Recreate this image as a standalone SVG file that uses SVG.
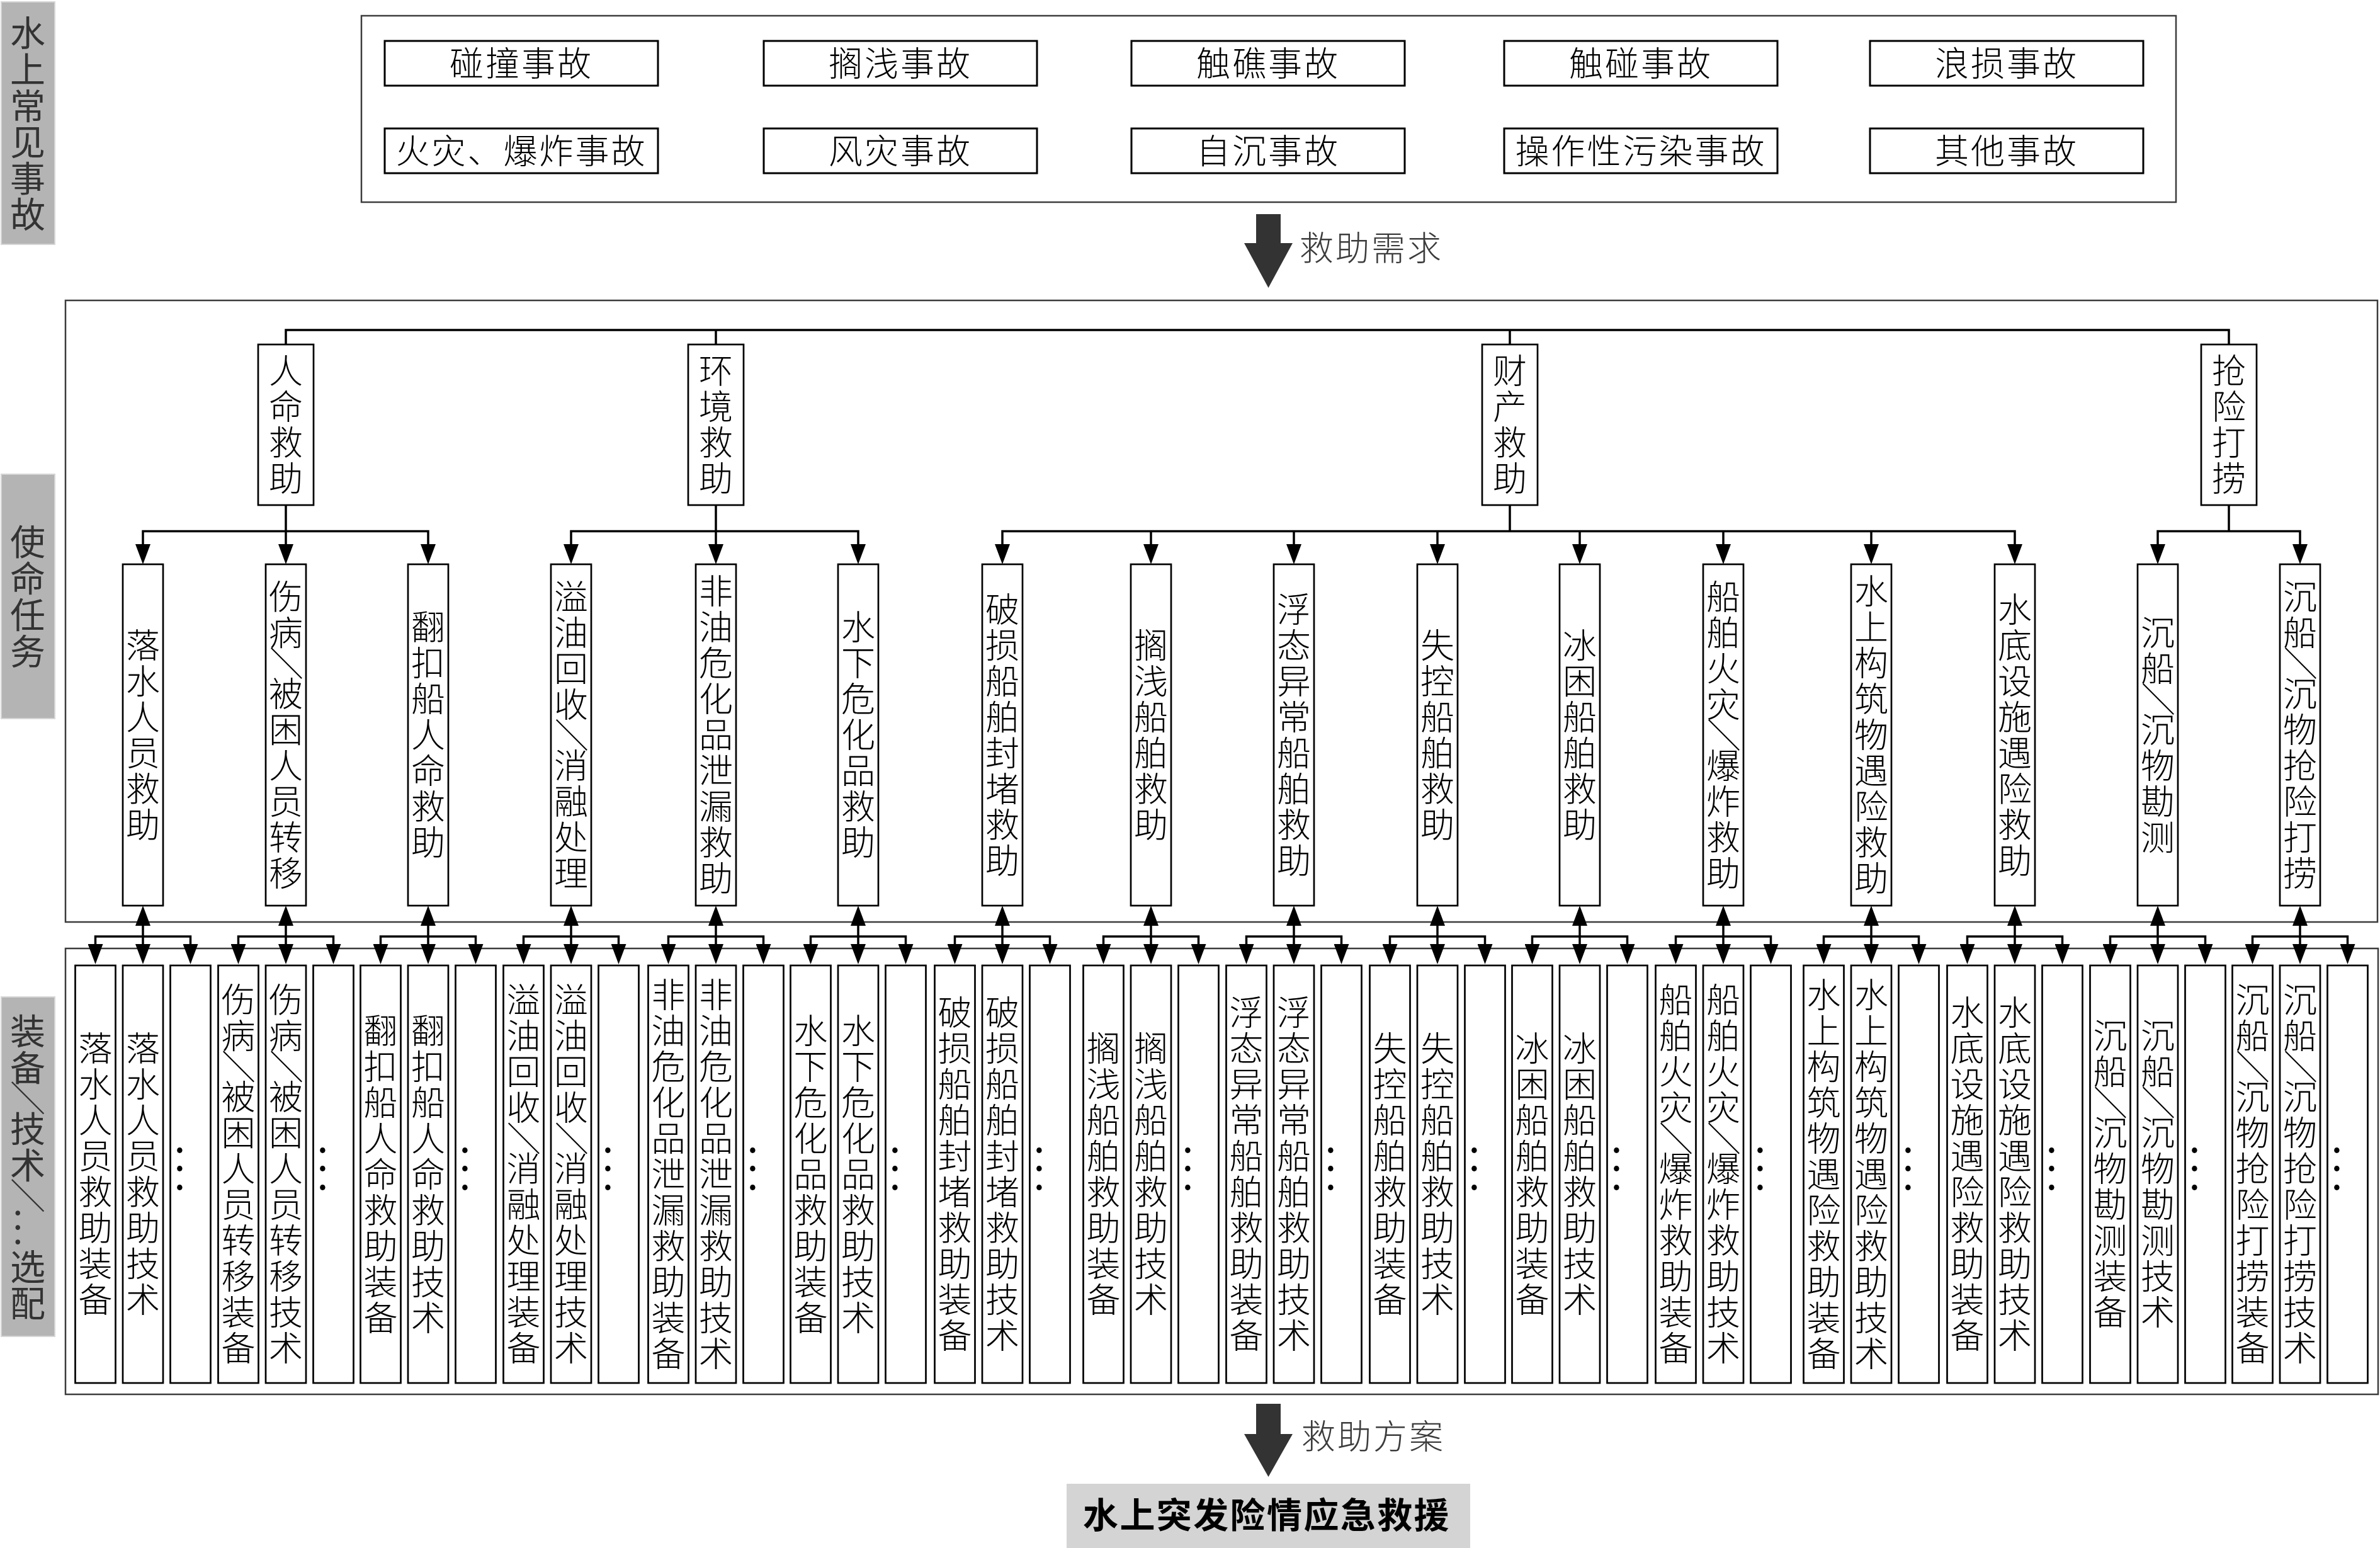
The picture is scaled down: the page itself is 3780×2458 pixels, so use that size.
<svg xmlns="http://www.w3.org/2000/svg" width="3780" height="2458" viewBox="0 0 3780 2458">
<style>
.f{font-family:'Noto Sans CJK SC','Noto Sans CJK JP',sans-serif}
.t{font-size:54px;fill:#000;font-weight:300}
.h{text-anchor:middle;letter-spacing:3px}
.lt{font-size:56px;fill:#333}
.d{font-size:64px;text-anchor:middle;fill:#000}
.bx{fill:#fff;stroke:#000;stroke-width:2.7}
.ab{fill:#fff;stroke:#000;stroke-width:3}
.big{fill:none;stroke:#3c3c3c;stroke-width:2.5}
.lab{fill:#b4b4b4;stroke:#d6d6d6;stroke-width:2}
.ln{fill:none;stroke:#000;stroke-width:3.5}
.me{marker-end:url(#ah)}
.mb{marker-start:url(#ah);marker-end:url(#ah)}
.blk{fill:#333}
</style>
<defs>
<marker id="ah" viewBox="0 0 32 24" refX="0" refY="12" markerWidth="32" markerHeight="24" markerUnits="userSpaceOnUse" orient="auto-start-reverse"><path d="M0,0 L32,12 L0,24 z" fill="#000"/></marker>
</defs>
<rect width="3780" height="2458" fill="#fff"/>

<g id="side-labels">
<g id="label-accidents"><rect class="lab" x="2" y="3" width="85" height="385"/>
<text class="f lt" x="16 16 16 16 16 16" y="73 131 188.5 246 303.5 361">水上常见事故</text></g>
<g id="label-missions"><rect class="lab" x="2" y="753" width="85" height="388"/>
<text class="f lt" x="16 16 16 16" y="881 939 997 1055">使命任务</text></g>
<g id="label-equipment"><rect class="lab" x="2" y="1583" width="85" height="539"/>
<text class="f lt" x="16 16 22.7 16 16 22.7 20.5 20.5 20.5 16 16" y="1658 1715.5 1715.2 1813 1870.5 1870.2 1929 1952 1975 2032 2090" rotate="0 0 90 0 0 90 0">装备／技术／...选配</text></g>
</g>

<g id="frames">
<rect class="big" x="574" y="25" width="2882" height="296"/>
<rect class="big" x="104" y="477" width="3672" height="987"/>
<rect class="big" x="104" y="1506" width="3673" height="708"/>
</g>

<g id="accidents">
<g id="acc-1"><rect class="ab" x="611" y="65" width="434" height="71"/><text class="f t h" x="828" y="121">碰撞事故</text></g>
<g id="acc-2"><rect class="ab" x="1213" y="65" width="434" height="71"/><text class="f t h" x="1430" y="121">搁浅事故</text></g>
<g id="acc-3"><rect class="ab" x="1797" y="65" width="434" height="71"/><text class="f t h" x="2014" y="121">触礁事故</text></g>
<g id="acc-4"><rect class="ab" x="2389" y="65" width="434" height="71"/><text class="f t h" x="2606" y="121">触碰事故</text></g>
<g id="acc-5"><rect class="ab" x="2970" y="65" width="434" height="71"/><text class="f t h" x="3187" y="121">浪损事故</text></g>
<g id="acc-6"><rect class="ab" x="611" y="204" width="434" height="71"/><text class="f t h" x="828" y="260">火灾、爆炸事故</text></g>
<g id="acc-7"><rect class="ab" x="1213" y="204" width="434" height="71"/><text class="f t h" x="1430" y="260">风灾事故</text></g>
<g id="acc-8"><rect class="ab" x="1797" y="204" width="434" height="71"/><text class="f t h" x="2014" y="260">自沉事故</text></g>
<g id="acc-9"><rect class="ab" x="2389" y="204" width="434" height="71"/><text class="f t h" x="2606" y="260">操作性污染事故</text></g>
<g id="acc-10"><rect class="ab" x="2970" y="204" width="434" height="71"/><text class="f t h" x="3187" y="260">其他事故</text></g>
</g>

<g id="flow-arrows">
<g id="arrow-demand"><polygon class="blk" points="1995,340 2034,340 2034,386 2053,386 2014.5,457 1976,386 1995,386"/>
<text class="f" x="2064" y="414" style="font-size:54px;fill:#3c3c3c;letter-spacing:3px;font-weight:300">救助需求</text></g>
<g id="arrow-plan"><polygon class="blk" points="1995,2229 2034,2229 2034,2277 2053,2277 2014.5,2345 1976,2277 1995,2277"/>
<text class="f" x="2067" y="2301" style="font-size:54px;fill:#3c3c3c;letter-spacing:3px;font-weight:300">救助方案</text></g>
</g>

<g id="result"><rect x="1694" y="2356" width="641" height="102" fill="#d4d4d4"/>
<text class="f" x="2012" y="2426" style="font-size:56px;font-weight:bold;text-anchor:middle;letter-spacing:2.4px;fill:#000">水上突发险情应急救援</text></g>

<g id="connectors">
<path class="ln" d="M454,547 V524 H3540 V547"/>
<path class="ln" d="M1137,524 V547"/>
<path class="ln" d="M2398,524 V547"/>
<path class="ln mb" d="M227,864 V843.5 H680 V864"/>
<path class="ln me" d="M454,802 V864"/>
<path class="ln mb" d="M907,864 V843.5 H1363 V864"/>
<path class="ln me" d="M1137,802 V864"/>
<path class="ln mb" d="M1592,864 V843.5 H3200 V864"/>
<path class="ln" d="M2398,802 V843.5"/>
<path class="ln me" d="M1828,843.5 V864"/>
<path class="ln me" d="M2055,843.5 V864"/>
<path class="ln me" d="M2283,843.5 V864"/>
<path class="ln me" d="M2509,843.5 V864"/>
<path class="ln me" d="M2737,843.5 V864"/>
<path class="ln me" d="M2972,843.5 V864"/>
<path class="ln mb" d="M3427,864 V843.5 H3653 V864"/>
<path class="ln" d="M3540,802 V843.5"/>
<path class="ln mb" d="M151.5,1499 V1487 H302.5 V1499"/><path class="ln mb" d="M227,1470 V1499"/>
<path class="ln mb" d="M378.5,1499 V1487 H529.5 V1499"/><path class="ln mb" d="M454,1470 V1499"/>
<path class="ln mb" d="M604.5,1499 V1487 H755.5 V1499"/><path class="ln mb" d="M680,1470 V1499"/>
<path class="ln mb" d="M831.5,1499 V1487 H982.5 V1499"/><path class="ln mb" d="M907,1470 V1499"/>
<path class="ln mb" d="M1061.5,1499 V1487 H1212.5 V1499"/><path class="ln mb" d="M1137,1470 V1499"/>
<path class="ln mb" d="M1287.5,1499 V1487 H1438.5 V1499"/><path class="ln mb" d="M1363,1470 V1499"/>
<path class="ln mb" d="M1516.5,1499 V1487 H1667.5 V1499"/><path class="ln mb" d="M1592,1470 V1499"/>
<path class="ln mb" d="M1752.5,1499 V1487 H1903.5 V1499"/><path class="ln mb" d="M1828,1470 V1499"/>
<path class="ln mb" d="M1979.5,1499 V1487 H2130.5 V1499"/><path class="ln mb" d="M2055,1470 V1499"/>
<path class="ln mb" d="M2207.5,1499 V1487 H2358.5 V1499"/><path class="ln mb" d="M2283,1470 V1499"/>
<path class="ln mb" d="M2433.5,1499 V1487 H2584.5 V1499"/><path class="ln mb" d="M2509,1470 V1499"/>
<path class="ln mb" d="M2661.5,1499 V1487 H2812.5 V1499"/><path class="ln mb" d="M2737,1470 V1499"/>
<path class="ln mb" d="M2896.5,1499 V1487 H3047.5 V1499"/><path class="ln mb" d="M2972,1470 V1499"/>
<path class="ln mb" d="M3124.5,1499 V1487 H3275.5 V1499"/><path class="ln mb" d="M3200,1470 V1499"/>
<path class="ln mb" d="M3351.5,1499 V1487 H3502.5 V1499"/><path class="ln mb" d="M3427,1470 V1499"/>
<path class="ln mb" d="M3577.5,1499 V1487 H3728.5 V1499"/><path class="ln mb" d="M3653,1470 V1499"/>
</g>

<g id="level1">
<g id="m-life"><rect class="bx" x="410" y="547" width="88" height="255"/><text class="f t" x="427 427 427 427" y="609 666 723 780">人命救助</text></g>
<g id="m-env"><rect class="bx" x="1093" y="547" width="88" height="255"/><text class="f t" x="1110 1110 1110 1110" y="609 666 723 780">环境救助</text></g>
<g id="m-prop"><rect class="bx" x="2354" y="547" width="88" height="255"/><text class="f t" x="2371 2371 2371 2371" y="609 666 723 780">财产救助</text></g>
<g id="m-salv"><rect class="bx" x="3496" y="547" width="88" height="255"/><text class="f t" x="3513 3513 3513 3513" y="609 666 723 780">抢险打捞</text></g>
</g>

<g id="level2">
<g id="t-1"><rect class="bx" x="195" y="896" width="64" height="542"/><text class="f t" x="200 200 200 200 200 200" y="1044.5 1101.5 1158.5 1215.5 1272.5 1329.5">落水人员救助</text></g>
<g id="t-2"><rect class="bx" x="422" y="896" width="64" height="542"/><text class="f t" x="427 427 433.5 427 427 427 427 427 427" y="967.5 1024.5 1026 1121.5 1178.5 1235.5 1292.5 1349.5 1406.5" rotate="0 0 90 0">伤病／被困人员转移</text></g>
<g id="t-3"><rect class="bx" x="648" y="896" width="64" height="542"/><text class="f t" x="653 653 653 653 653 653 653" y="1016 1073 1130 1187 1244 1301 1358">翻扣船人命救助</text></g>
<g id="t-4"><rect class="bx" x="875" y="896" width="64" height="542"/><text class="f t" x="880 880 880 880 886.5 880 880 880 880" y="967.5 1024.5 1081.5 1138.5 1140 1235.5 1292.5 1349.5 1406.5" rotate="0 0 0 0 90 0">溢油回收／消融处理</text></g>
<g id="t-5"><rect class="bx" x="1105" y="896" width="64" height="542"/><text class="f t" x="1110 1110 1110 1110 1110 1110 1110 1110 1110" y="959 1016 1073 1130 1187 1244 1301 1358 1415">非油危化品泄漏救助</text></g>
<g id="t-6"><rect class="bx" x="1331" y="896" width="64" height="542"/><text class="f t" x="1336 1336 1336 1336 1336 1336 1336" y="1016 1073 1130 1187 1244 1301 1358">水下危化品救助</text></g>
<g id="t-7"><rect class="bx" x="1560" y="896" width="64" height="542"/><text class="f t" x="1565 1565 1565 1565 1565 1565 1565 1565" y="987.5 1044.5 1101.5 1158.5 1215.5 1272.5 1329.5 1386.5">破损船舶封堵救助</text></g>
<g id="t-8"><rect class="bx" x="1796" y="896" width="64" height="542"/><text class="f t" x="1801 1801 1801 1801 1801 1801" y="1044.5 1101.5 1158.5 1215.5 1272.5 1329.5">搁浅船舶救助</text></g>
<g id="t-9"><rect class="bx" x="2023" y="896" width="64" height="542"/><text class="f t" x="2028 2028 2028 2028 2028 2028 2028 2028" y="987.5 1044.5 1101.5 1158.5 1215.5 1272.5 1329.5 1386.5">浮态异常船舶救助</text></g>
<g id="t-10"><rect class="bx" x="2251" y="896" width="64" height="542"/><text class="f t" x="2256 2256 2256 2256 2256 2256" y="1044.5 1101.5 1158.5 1215.5 1272.5 1329.5">失控船舶救助</text></g>
<g id="t-11"><rect class="bx" x="2477" y="896" width="64" height="542"/><text class="f t" x="2482 2482 2482 2482 2482 2482" y="1044.5 1101.5 1158.5 1215.5 1272.5 1329.5">冰困船舶救助</text></g>
<g id="t-12"><rect class="bx" x="2705" y="896" width="64" height="542"/><text class="f t" x="2710 2710 2710 2710 2716.5 2710 2710 2710 2710" y="967.5 1024.5 1081.5 1138.5 1140 1235.5 1292.5 1349.5 1406.5" rotate="0 0 0 0 90 0">船舶火灾／爆炸救助</text></g>
<g id="t-13"><rect class="bx" x="2940" y="896" width="64" height="542"/><text class="f t" x="2945 2945 2945 2945 2945 2945 2945 2945 2945" y="959 1016 1073 1130 1187 1244 1301 1358 1415">水上构筑物遇险救助</text></g>
<g id="t-14"><rect class="bx" x="3168" y="896" width="64" height="542"/><text class="f t" x="3173 3173 3173 3173 3173 3173 3173 3173" y="987.5 1044.5 1101.5 1158.5 1215.5 1272.5 1329.5 1386.5">水底设施遇险救助</text></g>
<g id="t-15"><rect class="bx" x="3395" y="896" width="64" height="542"/><text class="f t" x="3400 3400 3406.5 3400 3400 3400 3400" y="1024.5 1081.5 1083 1178.5 1235.5 1292.5 1349.5" rotate="0 0 90 0">沉船／沉物勘测</text></g>
<g id="t-16"><rect class="bx" x="3621" y="896" width="64" height="542"/><text class="f t" x="3626 3626 3632.5 3626 3626 3626 3626 3626 3626" y="967.5 1024.5 1026 1121.5 1178.5 1235.5 1292.5 1349.5 1406.5" rotate="0 0 90 0">沉船／沉物抢险打捞</text></g>
</g>

<g id="level3">
<g id="e-1a"><rect class="bx" x="119.5" y="1533" width="64" height="663"/><text class="f t" x="124.5 124.5 124.5 124.5 124.5 124.5 124.5 124.5" y="1685 1742 1799 1856 1913 1970 2027 2084">落水人员救助装备</text></g>
<g id="e-1b"><rect class="bx" x="195" y="1533" width="64" height="663"/><text class="f t" x="200 200 200 200 200 200 200 200" y="1685 1742 1799 1856 1913 1970 2027 2084">落水人员救助技术</text></g>
<g id="e-1c"><rect class="bx" x="270.5" y="1533" width="64" height="663"/><text class="f d" x="285.5 285.5 285.5" y="1830 1859 1889">...</text></g>

<g id="e-2a"><rect class="bx" x="346.5" y="1533" width="64" height="663"/><text class="f t" x="351.5 351.5 358 351.5 351.5 351.5 351.5 351.5 351.5 351.5 351.5" y="1608 1665 1666.5 1762 1819 1876 1933 1990 2047 2104 2161" rotate="0 0 90 0">伤病／被困人员转移装备</text></g>
<g id="e-2b"><rect class="bx" x="422" y="1533" width="64" height="663"/><text class="f t" x="427 427 433.5 427 427 427 427 427 427 427 427" y="1608 1665 1666.5 1762 1819 1876 1933 1990 2047 2104 2161" rotate="0 0 90 0">伤病／被困人员转移技术</text></g>
<g id="e-2c"><rect class="bx" x="497.5" y="1533" width="64" height="663"/><text class="f d" x="512.5 512.5 512.5" y="1830 1859 1889">...</text></g>

<g id="e-3a"><rect class="bx" x="572.5" y="1533" width="64" height="663"/><text class="f t" x="577.5 577.5 577.5 577.5 577.5 577.5 577.5 577.5 577.5" y="1656.5 1713.5 1770.5 1827.5 1884.5 1941.5 1998.5 2055.5 2112.5">翻扣船人命救助装备</text></g>
<g id="e-3b"><rect class="bx" x="648" y="1533" width="64" height="663"/><text class="f t" x="653 653 653 653 653 653 653 653 653" y="1656.5 1713.5 1770.5 1827.5 1884.5 1941.5 1998.5 2055.5 2112.5">翻扣船人命救助技术</text></g>
<g id="e-3c"><rect class="bx" x="723.5" y="1533" width="64" height="663"/><text class="f d" x="738.5 738.5 738.5" y="1830 1859 1889">...</text></g>

<g id="e-4a"><rect class="bx" x="799.5" y="1533" width="64" height="663"/><text class="f t" x="804.5 804.5 804.5 804.5 811 804.5 804.5 804.5 804.5 804.5 804.5" y="1608 1665 1722 1779 1780.5 1876 1933 1990 2047 2104 2161" rotate="0 0 0 0 90 0">溢油回收／消融处理装备</text></g>
<g id="e-4b"><rect class="bx" x="875" y="1533" width="64" height="663"/><text class="f t" x="880 880 880 880 886.5 880 880 880 880 880 880" y="1608 1665 1722 1779 1780.5 1876 1933 1990 2047 2104 2161" rotate="0 0 0 0 90 0">溢油回收／消融处理技术</text></g>
<g id="e-4c"><rect class="bx" x="950.5" y="1533" width="64" height="663"/><text class="f d" x="965.5 965.5 965.5" y="1830 1859 1889">...</text></g>

<g id="e-5a"><rect class="bx" x="1029.5" y="1533" width="64" height="663"/><text class="f t" x="1034.5 1034.5 1034.5 1034.5 1034.5 1034.5 1034.5 1034.5 1034.5 1034.5 1034.5" y="1599.5 1656.5 1713.5 1770.5 1827.5 1884.5 1941.5 1998.5 2055.5 2112.5 2169.5">非油危化品泄漏救助装备</text></g>
<g id="e-5b"><rect class="bx" x="1105" y="1533" width="64" height="663"/><text class="f t" x="1110 1110 1110 1110 1110 1110 1110 1110 1110 1110 1110" y="1599.5 1656.5 1713.5 1770.5 1827.5 1884.5 1941.5 1998.5 2055.5 2112.5 2169.5">非油危化品泄漏救助技术</text></g>
<g id="e-5c"><rect class="bx" x="1180.5" y="1533" width="64" height="663"/><text class="f d" x="1195.5 1195.5 1195.5" y="1830 1859 1889">...</text></g>

<g id="e-6a"><rect class="bx" x="1255.5" y="1533" width="64" height="663"/><text class="f t" x="1260.5 1260.5 1260.5 1260.5 1260.5 1260.5 1260.5 1260.5 1260.5" y="1656.5 1713.5 1770.5 1827.5 1884.5 1941.5 1998.5 2055.5 2112.5">水下危化品救助装备</text></g>
<g id="e-6b"><rect class="bx" x="1331" y="1533" width="64" height="663"/><text class="f t" x="1336 1336 1336 1336 1336 1336 1336 1336 1336" y="1656.5 1713.5 1770.5 1827.5 1884.5 1941.5 1998.5 2055.5 2112.5">水下危化品救助技术</text></g>
<g id="e-6c"><rect class="bx" x="1406.5" y="1533" width="64" height="663"/><text class="f d" x="1421.5 1421.5 1421.5" y="1830 1859 1889">...</text></g>

<g id="e-7a"><rect class="bx" x="1484.5" y="1533" width="64" height="663"/><text class="f t" x="1489.5 1489.5 1489.5 1489.5 1489.5 1489.5 1489.5 1489.5 1489.5 1489.5" y="1628 1685 1742 1799 1856 1913 1970 2027 2084 2141">破损船舶封堵救助装备</text></g>
<g id="e-7b"><rect class="bx" x="1560" y="1533" width="64" height="663"/><text class="f t" x="1565 1565 1565 1565 1565 1565 1565 1565 1565 1565" y="1628 1685 1742 1799 1856 1913 1970 2027 2084 2141">破损船舶封堵救助技术</text></g>
<g id="e-7c"><rect class="bx" x="1635.5" y="1533" width="64" height="663"/><text class="f d" x="1650.5 1650.5 1650.5" y="1830 1859 1889">...</text></g>

<g id="e-8a"><rect class="bx" x="1720.5" y="1533" width="64" height="663"/><text class="f t" x="1725.5 1725.5 1725.5 1725.5 1725.5 1725.5 1725.5 1725.5" y="1685 1742 1799 1856 1913 1970 2027 2084">搁浅船舶救助装备</text></g>
<g id="e-8b"><rect class="bx" x="1796" y="1533" width="64" height="663"/><text class="f t" x="1801 1801 1801 1801 1801 1801 1801 1801" y="1685 1742 1799 1856 1913 1970 2027 2084">搁浅船舶救助技术</text></g>
<g id="e-8c"><rect class="bx" x="1871.5" y="1533" width="64" height="663"/><text class="f d" x="1886.5 1886.5 1886.5" y="1830 1859 1889">...</text></g>

<g id="e-9a"><rect class="bx" x="1947.5" y="1533" width="64" height="663"/><text class="f t" x="1952.5 1952.5 1952.5 1952.5 1952.5 1952.5 1952.5 1952.5 1952.5 1952.5" y="1628 1685 1742 1799 1856 1913 1970 2027 2084 2141">浮态异常船舶救助装备</text></g>
<g id="e-9b"><rect class="bx" x="2023" y="1533" width="64" height="663"/><text class="f t" x="2028 2028 2028 2028 2028 2028 2028 2028 2028 2028" y="1628 1685 1742 1799 1856 1913 1970 2027 2084 2141">浮态异常船舶救助技术</text></g>
<g id="e-9c"><rect class="bx" x="2098.5" y="1533" width="64" height="663"/><text class="f d" x="2113.5 2113.5 2113.5" y="1830 1859 1889">...</text></g>

<g id="e-10a"><rect class="bx" x="2175.5" y="1533" width="64" height="663"/><text class="f t" x="2180.5 2180.5 2180.5 2180.5 2180.5 2180.5 2180.5 2180.5" y="1685 1742 1799 1856 1913 1970 2027 2084">失控船舶救助装备</text></g>
<g id="e-10b"><rect class="bx" x="2251" y="1533" width="64" height="663"/><text class="f t" x="2256 2256 2256 2256 2256 2256 2256 2256" y="1685 1742 1799 1856 1913 1970 2027 2084">失控船舶救助技术</text></g>
<g id="e-10c"><rect class="bx" x="2326.5" y="1533" width="64" height="663"/><text class="f d" x="2341.5 2341.5 2341.5" y="1830 1859 1889">...</text></g>

<g id="e-11a"><rect class="bx" x="2401.5" y="1533" width="64" height="663"/><text class="f t" x="2406.5 2406.5 2406.5 2406.5 2406.5 2406.5 2406.5 2406.5" y="1685 1742 1799 1856 1913 1970 2027 2084">冰困船舶救助装备</text></g>
<g id="e-11b"><rect class="bx" x="2477" y="1533" width="64" height="663"/><text class="f t" x="2482 2482 2482 2482 2482 2482 2482 2482" y="1685 1742 1799 1856 1913 1970 2027 2084">冰困船舶救助技术</text></g>
<g id="e-11c"><rect class="bx" x="2552.5" y="1533" width="64" height="663"/><text class="f d" x="2567.5 2567.5 2567.5" y="1830 1859 1889">...</text></g>

<g id="e-12a"><rect class="bx" x="2629.5" y="1533" width="64" height="663"/><text class="f t" x="2634.5 2634.5 2634.5 2634.5 2641 2634.5 2634.5 2634.5 2634.5 2634.5 2634.5" y="1608 1665 1722 1779 1780.5 1876 1933 1990 2047 2104 2161" rotate="0 0 0 0 90 0">船舶火灾／爆炸救助装备</text></g>
<g id="e-12b"><rect class="bx" x="2705" y="1533" width="64" height="663"/><text class="f t" x="2710 2710 2710 2710 2716.5 2710 2710 2710 2710 2710 2710" y="1608 1665 1722 1779 1780.5 1876 1933 1990 2047 2104 2161" rotate="0 0 0 0 90 0">船舶火灾／爆炸救助技术</text></g>
<g id="e-12c"><rect class="bx" x="2780.5" y="1533" width="64" height="663"/><text class="f d" x="2795.5 2795.5 2795.5" y="1830 1859 1889">...</text></g>

<g id="e-13a"><rect class="bx" x="2864.5" y="1533" width="64" height="663"/><text class="f t" x="2869.5 2869.5 2869.5 2869.5 2869.5 2869.5 2869.5 2869.5 2869.5 2869.5 2869.5" y="1599.5 1656.5 1713.5 1770.5 1827.5 1884.5 1941.5 1998.5 2055.5 2112.5 2169.5">水上构筑物遇险救助装备</text></g>
<g id="e-13b"><rect class="bx" x="2940" y="1533" width="64" height="663"/><text class="f t" x="2945 2945 2945 2945 2945 2945 2945 2945 2945 2945 2945" y="1599.5 1656.5 1713.5 1770.5 1827.5 1884.5 1941.5 1998.5 2055.5 2112.5 2169.5">水上构筑物遇险救助技术</text></g>
<g id="e-13c"><rect class="bx" x="3015.5" y="1533" width="64" height="663"/><text class="f d" x="3030.5 3030.5 3030.5" y="1830 1859 1889">...</text></g>

<g id="e-14a"><rect class="bx" x="3092.5" y="1533" width="64" height="663"/><text class="f t" x="3097.5 3097.5 3097.5 3097.5 3097.5 3097.5 3097.5 3097.5 3097.5 3097.5" y="1628 1685 1742 1799 1856 1913 1970 2027 2084 2141">水底设施遇险救助装备</text></g>
<g id="e-14b"><rect class="bx" x="3168" y="1533" width="64" height="663"/><text class="f t" x="3173 3173 3173 3173 3173 3173 3173 3173 3173 3173" y="1628 1685 1742 1799 1856 1913 1970 2027 2084 2141">水底设施遇险救助技术</text></g>
<g id="e-14c"><rect class="bx" x="3243.5" y="1533" width="64" height="663"/><text class="f d" x="3258.5 3258.5 3258.5" y="1830 1859 1889">...</text></g>

<g id="e-15a"><rect class="bx" x="3319.5" y="1533" width="64" height="663"/><text class="f t" x="3324.5 3324.5 3331 3324.5 3324.5 3324.5 3324.5 3324.5 3324.5" y="1665 1722 1723.5 1819 1876 1933 1990 2047 2104" rotate="0 0 90 0">沉船／沉物勘测装备</text></g>
<g id="e-15b"><rect class="bx" x="3395" y="1533" width="64" height="663"/><text class="f t" x="3400 3400 3406.5 3400 3400 3400 3400 3400 3400" y="1665 1722 1723.5 1819 1876 1933 1990 2047 2104" rotate="0 0 90 0">沉船／沉物勘测技术</text></g>
<g id="e-15c"><rect class="bx" x="3470.5" y="1533" width="64" height="663"/><text class="f d" x="3485.5 3485.5 3485.5" y="1830 1859 1889">...</text></g>

<g id="e-16a"><rect class="bx" x="3545.5" y="1533" width="64" height="663"/><text class="f t" x="3550.5 3550.5 3557 3550.5 3550.5 3550.5 3550.5 3550.5 3550.5 3550.5 3550.5" y="1608 1665 1666.5 1762 1819 1876 1933 1990 2047 2104 2161" rotate="0 0 90 0">沉船／沉物抢险打捞装备</text></g>
<g id="e-16b"><rect class="bx" x="3621" y="1533" width="64" height="663"/><text class="f t" x="3626 3626 3632.5 3626 3626 3626 3626 3626 3626 3626 3626" y="1608 1665 1666.5 1762 1819 1876 1933 1990 2047 2104 2161" rotate="0 0 90 0">沉船／沉物抢险打捞技术</text></g>
<g id="e-16c"><rect class="bx" x="3696.5" y="1533" width="64" height="663"/><text class="f d" x="3711.5 3711.5 3711.5" y="1830 1859 1889">...</text></g>
</g>
</svg>
